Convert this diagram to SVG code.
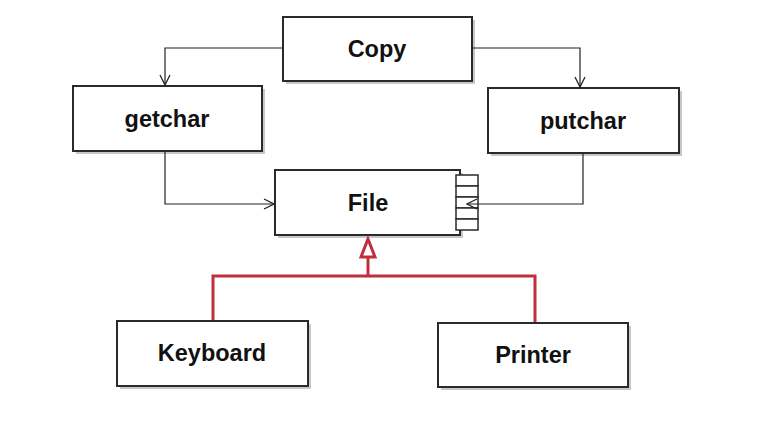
<svg xmlns="http://www.w3.org/2000/svg" width="761" height="422" viewBox="0 0 761 422">
<style>
.box{fill:#fff;stroke:#2a2a2a;stroke-width:2}
.sh{fill:#9a9a9a;opacity:0.55}
.lbl{font-family:"Liberation Sans",Arial,sans-serif;font-weight:bold;font-size:23.5px;fill:#111;text-anchor:middle;dominant-baseline:central}
.con{fill:none;stroke:#222;stroke-width:1.2}
.red{fill:none;stroke:#c0303c;stroke-width:3}
.port{fill:#fff;stroke:#2a2a2a;stroke-width:1.5}
</style>
<defs>
<marker id="open" viewBox="0 0 12 12" refX="11" refY="6" markerWidth="12" markerHeight="12" markerUnits="userSpaceOnUse" orient="auto">
<path d="M1,1 L11,6 L1,11" fill="none" stroke="#222" stroke-width="1.3"/>
</marker>
</defs>
<rect width="761" height="422" fill="#fff"/>
<g id="copy">
<rect class="sh" x="286" y="20" width="189" height="64"/>
<rect class="box" x="283" y="17" width="189" height="64"/>
<text class="lbl" x="377" y="49">Copy</text>
</g>
<g id="getchar">
<rect class="sh" x="76" y="89" width="189" height="65"/>
<rect class="box" x="73" y="86" width="189" height="65"/>
<text class="lbl" x="167" y="119">getchar</text>
</g>
<g id="putchar">
<rect class="sh" x="491" y="91" width="191" height="65"/>
<rect class="box" x="488" y="88" width="191" height="65"/>
<text class="lbl" x="583" y="121">putchar</text>
</g>
<g id="file">
<rect class="sh" x="278" y="173" width="185" height="65"/>
<rect class="box" x="275" y="170" width="185" height="65"/>
<text class="lbl" x="368" y="203">File</text>
<rect class="port" x="456" y="175" width="22" height="11"/>
<rect class="port" x="456" y="186" width="22" height="11"/>
<rect class="port" x="456" y="197" width="22" height="11"/>
<rect class="port" x="456" y="208" width="22" height="11"/>
<rect class="port" x="456" y="219" width="22" height="11"/>
</g>
<g id="keyboard">
<rect class="sh" x="120" y="324" width="191" height="65"/>
<rect class="box" x="117" y="321" width="191" height="65"/>
<text class="lbl" x="212" y="353">Keyboard</text>
</g>
<g id="printer">
<rect class="sh" x="441" y="326" width="190" height="64"/>
<rect class="box" x="438" y="323" width="190" height="64"/>
<text class="lbl" x="533" y="355">Printer</text>
</g>
<g id="connectors">
<path class="con" d="M283,48 H165 V85" marker-end="url(#open)"/>
<path class="con" d="M472,48 H580 V87" marker-end="url(#open)"/>
<path class="con" d="M165,152 V204 H274" marker-end="url(#open)"/>
<path class="con" d="M583,154 V204 H467" marker-end="url(#open)"/>
<path class="red" d="M213,320 V276 H535 V322"/>
<path class="red" d="M368,276 V258"/>
<path d="M368,239 L375,257 L361,257 Z" fill="#fff" stroke="#c0303c" stroke-width="3"/>
</g>
</svg>
